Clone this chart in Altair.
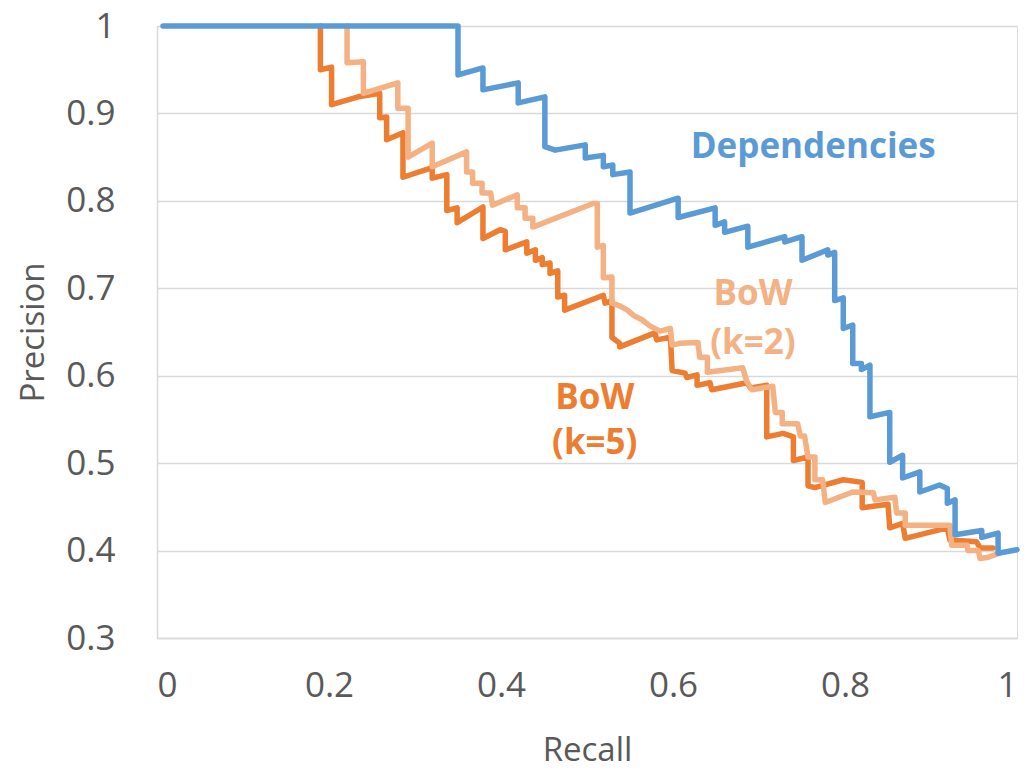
import altair as alt
import pandas as pd

# Dependencies (blue)
dep_x = [0.007, 0.350, 0.350, 0.379, 0.379, 0.420, 0.420, 0.451, 0.451, 0.463, 0.498, 0.498,
         0.519, 0.519, 0.530, 0.530, 0.550, 0.550, 0.606, 0.606, 0.649, 0.649, 0.660, 0.660,
         0.687, 0.687, 0.730, 0.730, 0.750, 0.750, 0.780, 0.780, 0.788, 0.788, 0.798, 0.798,
         0.809, 0.809, 0.819, 0.819, 0.829, 0.829, 0.852, 0.852, 0.867, 0.867, 0.887, 0.887,
         0.910, 0.919, 0.919, 0.928, 0.928, 0.959, 0.959, 0.978, 0.978, 1.000]
dep_y = [1.000, 1.000, 0.944, 0.952, 0.927, 0.935, 0.912, 0.919, 0.862, 0.858, 0.864, 0.849,
         0.852, 0.839, 0.841, 0.830, 0.833, 0.786, 0.803, 0.781, 0.792, 0.772, 0.776, 0.764,
         0.771, 0.747, 0.759, 0.753, 0.759, 0.732, 0.744, 0.738, 0.741, 0.686, 0.689, 0.654,
         0.658, 0.614, 0.614, 0.607, 0.612, 0.553, 0.558, 0.501, 0.509, 0.483, 0.490, 0.467,
         0.475, 0.471, 0.454, 0.458, 0.418, 0.423, 0.415, 0.420, 0.397, 0.401]

# BoW (k=5) (dark orange)
k5_x = [0.190, 0.190, 0.203, 0.203, 0.234, 0.259, 0.259, 0.267, 0.267, 0.286, 0.286, 0.320,
        0.320, 0.337, 0.337, 0.349, 0.349, 0.379, 0.379, 0.399, 0.405, 0.405, 0.430, 0.430,
        0.440, 0.440, 0.448, 0.448, 0.457, 0.457, 0.466, 0.466, 0.474, 0.474, 0.519, 0.521,
        0.529, 0.529, 0.538, 0.538, 0.579, 0.581, 0.597, 0.599, 0.614, 0.616, 0.628, 0.628,
        0.643, 0.645, 0.686, 0.690, 0.709, 0.709, 0.728, 0.740, 0.740, 0.757, 0.757, 0.765,
        0.798, 0.820, 0.820, 0.850, 0.852, 0.867, 0.870, 0.919, 0.922, 0.953, 0.957, 0.972]
k5_y = [1.000, 0.950, 0.953, 0.910, 0.919, 0.923, 0.895, 0.896, 0.870, 0.878, 0.827, 0.838,
        0.826, 0.830, 0.789, 0.792, 0.775, 0.793, 0.757, 0.767, 0.765, 0.744, 0.753, 0.740,
        0.744, 0.732, 0.735, 0.727, 0.729, 0.717, 0.720, 0.690, 0.692, 0.675, 0.692, 0.683,
        0.686, 0.644, 0.637, 0.633, 0.649, 0.641, 0.644, 0.606, 0.603, 0.598, 0.601, 0.589,
        0.592, 0.584, 0.592, 0.586, 0.589, 0.530, 0.534, 0.530, 0.503, 0.507, 0.474, 0.472,
        0.481, 0.478, 0.449, 0.453, 0.426, 0.431, 0.414, 0.426, 0.412, 0.410, 0.403, 0.403]

# BoW (k=2) (light orange)
k2_x = [0.221, 0.221, 0.240, 0.240, 0.280, 0.280, 0.292, 0.292, 0.320, 0.320, 0.360, 0.360,
        0.367, 0.367, 0.378, 0.378, 0.388, 0.390, 0.419, 0.419, 0.428, 0.428, 0.437, 0.437,
        0.507, 0.512, 0.512, 0.519, 0.519, 0.529, 0.529, 0.538, 0.547, 0.554, 0.564, 0.573,
        0.585, 0.597, 0.599, 0.608, 0.629, 0.631, 0.640, 0.640, 0.681, 0.686, 0.692, 0.716,
        0.719, 0.727, 0.727, 0.745, 0.748, 0.753, 0.757, 0.765, 0.765, 0.774, 0.777, 0.809,
        0.833, 0.835, 0.858, 0.860, 0.870, 0.870, 0.922, 0.924, 0.942, 0.943, 0.955, 0.957,
        0.965, 0.980]
k2_y = [1.000, 0.958, 0.959, 0.923, 0.935, 0.906, 0.906, 0.850, 0.866, 0.839, 0.856, 0.833,
        0.833, 0.820, 0.820, 0.809, 0.809, 0.795, 0.807, 0.792, 0.792, 0.780, 0.780, 0.770,
        0.797, 0.797, 0.747, 0.749, 0.712, 0.713, 0.683, 0.680, 0.675, 0.669, 0.664, 0.657,
        0.651, 0.654, 0.635, 0.637, 0.638, 0.621, 0.621, 0.604, 0.609, 0.593, 0.584, 0.588,
        0.558, 0.558, 0.545, 0.545, 0.531, 0.531, 0.507, 0.507, 0.481, 0.481, 0.455, 0.467,
        0.466, 0.458, 0.461, 0.443, 0.443, 0.429, 0.429, 0.406, 0.406, 0.400, 0.400, 0.391,
        0.392, 0.397]

series_names = ["Dependencies", "BoW (k=5)", "BoW (k=2)"]
series_colors = ["#5B9BD5", "#ED7D31", "#F4B183"]

# in-plot labels
label_text = ["Dependencies", "BoW", "(k=2)", "BoW", "(k=5)"]
label_series = ["Dependencies", "BoW (k=2)", "BoW (k=2)", "BoW (k=5)", "BoW (k=5)"]
label_x = [0.763, 0.693, 0.693, 0.509, 0.509]
label_y = [0.862, 0.694, 0.637, 0.575, 0.523]

x_ticks = [0, 0.2, 0.4, 0.6, 0.8, 1]
y_ticks = [0.3, 0.4, 0.5, 0.6, 0.7, 0.8, 0.9, 1]

rows = []
for name, xs, ys in [("BoW (k=5)", k5_x, k5_y), ("BoW (k=2)", k2_x, k2_y),
                     ("Dependencies", dep_x, dep_y)]:
    for i, (a, b) in enumerate(zip(xs, ys)):
        rows.append({"series": name, "recall": a, "precision": b, "idx": i})
df = pd.DataFrame(rows)
labels = pd.DataFrame({"text": label_text, "series": label_series, "x": label_x, "y": label_y})

color = alt.Color("series:N", scale=alt.Scale(domain=series_names, range=series_colors), legend=None)
FONT = "Open Sans"

xenc = alt.X("recall:Q", title="Recall",
             scale=alt.Scale(domain=[0, 1], nice=False),
             axis=alt.Axis(values=x_ticks, format="~g", grid=False, ticks=False,
                           domainColor="#D9D9D9", domainWidth=1.5,
                           labelPadding=30, labelFontSize=35, labelColor="#595959", labelFont=FONT,
                           titleFontSize=33, titleColor="#595959", titleFont=FONT, titleFontWeight="normal",
                           titleX=430, titleY=112, titleBaseline="middle"))
yenc = alt.Y("precision:Q", title="Precision",
             scale=alt.Scale(domain=[0.3, 1], nice=False),
             axis=alt.Axis(values=y_ticks, format="~g", grid=True, gridColor="#D9D9D9", gridWidth=1.5,
                           ticks=False, domainColor="#D9D9D9", domainWidth=1.5,
                           labelPadding=42, labelFontSize=35, labelColor="#595959", labelFont=FONT,
                           titleFontSize=33, titleColor="#595959", titleFont=FONT, titleFontWeight="normal",
                           titleX=-124, titleY=306, titleBaseline="middle", titleAngle=-90))

# layer order: k5 under k2 under dependencies
line_layers = [
    alt.Chart(df[df.series == s]).mark_line(strokeWidth=5.5, strokeJoin="round", strokeCap="round").encode(
        x=xenc, y=yenc, color=color, order=alt.Order("idx:Q"))
    for s in ["BoW (k=5)", "BoW (k=2)", "Dependencies"]
]

text = alt.Chart(labels).mark_text(font=FONT, fontSize=35, fontWeight="bold", align="center",
                                   baseline="middle").encode(
    x=alt.X("x:Q"), y=alt.Y("y:Q"), text="text:N", color=color
)

chart = alt.layer(*line_layers, text).properties(
    width=860, height=612,
    autosize=alt.AutoSizeParams(type="none"),
    padding={"left": 157, "top": 26, "right": 13, "bottom": 134},
).configure_view(stroke=None).configure(background="white")

chart.save("out.html", embed_options={"renderer": "svg", "actions": False})
